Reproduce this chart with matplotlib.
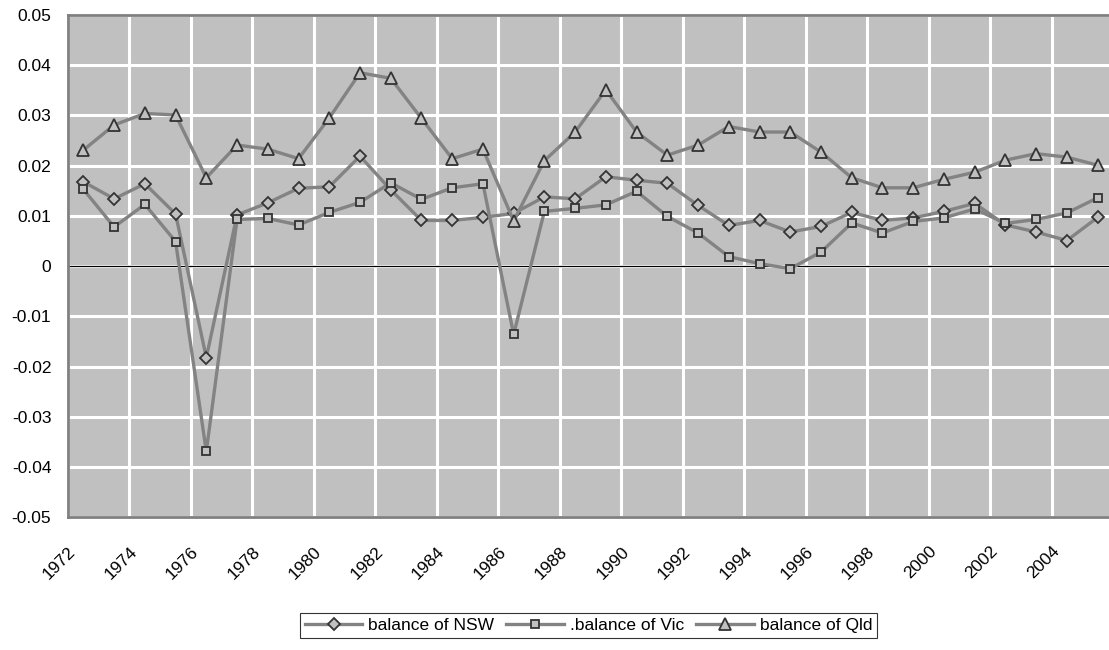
import numpy as np
import matplotlib.pyplot as plt

plt.rcParams['font.family'] = ['Liberation Sans Narrow', 'Liberation Sans', 'DejaVu Sans']
plt.rcParams['axes.unicode_minus'] = False

# yearly balances, 1972-2005
years = list(range(1972, 2006))
nsw = [0.0168, 0.0134, 0.0164, 0.0104, -0.0182, 0.0102, 0.0126, 0.0155, 0.0158, 0.0219,
       0.0152, 0.0091, 0.0091, 0.0097, 0.0105, 0.0138, 0.0134, 0.0178, 0.0171, 0.0165,
       0.0121, 0.0081, 0.0091, 0.0068, 0.0079, 0.0107, 0.0091, 0.0096, 0.0109, 0.0125,
       0.0082, 0.0068, 0.0051, 0.0097]
vic = [0.0153, 0.0078, 0.0123, 0.0049, -0.0369, 0.0093, 0.0095, 0.0082, 0.0107, 0.0127,
       0.0166, 0.0133, 0.0156, 0.0164, -0.0136, 0.0109, 0.0115, 0.0122, 0.0149, 0.0099,
       0.0066, 0.0019, 0.0005, -0.0005, 0.0028, 0.0086, 0.0066, 0.0089, 0.0096, 0.0114,
       0.0085, 0.0093, 0.0106, 0.0136]
qld = [0.0231, 0.0281, 0.0304, 0.0301, 0.0176, 0.0241, 0.0233, 0.0214, 0.0295, 0.0385,
       0.0374, 0.0294, 0.0214, 0.0233, 0.0090, 0.0210, 0.0267, 0.0351, 0.0267, 0.0221,
       0.0241, 0.0278, 0.0267, 0.0267, 0.0227, 0.0176, 0.0156, 0.0156, 0.0173, 0.0187,
       0.0211, 0.0224, 0.0217, 0.0201]

# categories sit between the year gridlines
x = np.arange(len(years)) + 0.5

fig = plt.figure(figsize=(11.09, 6.5), dpi=100)
ax = fig.add_axes([68/1109, 132.7/650, 1 - 68/1109, 502.3/650])
ax.set_facecolor('#c0c0c0')

line_kw = dict(color='#838383', lw=2.4, mfc='#c0c0c0', mec='#333333', mew=1.3, zorder=3)
ax.plot(x, nsw, marker='D', ms=6.5, label='balance of NSW', **line_kw)
ax.plot(x, vic, marker='s', ms=6, label='.balance of Vic', **line_kw)
ax.plot(x, qld, marker='^', ms=8, label='balance of Qld', **line_kw)

ax.axhline(0, color='black', lw=0.9, zorder=2)

ax.set_xlim(0, 33.87)
ax.set_ylim(-0.05, 0.05)
ax.set_xticks(np.arange(0, 33, 2))
ax.set_xticklabels([str(y) for y in years[::2]], rotation=45, ha='right', va='top',
                   rotation_mode='anchor')
yt = np.round(np.arange(-0.05, 0.051, 0.01), 2)
ax.set_yticks(yt)
ax.set_yticklabels([f'{v:g}' for v in yt])
ax.tick_params(axis='both', length=0, labelsize=12.5, colors='black')
ax.tick_params(axis='y', pad=12)
ax.tick_params(axis='x', pad=19)

ax.grid(True, color='white', lw=2.2, zorder=1)
ax.set_axisbelow(True)

for side in ['top', 'left', 'bottom']:
    ax.spines[side].set_color('#808080')
    ax.spines[side].set_linewidth(2)
ax.spines['right'].set_visible(False)

leg = ax.legend(loc='center', bbox_to_anchor=(0.5, -0.215), ncol=3, frameon=True,
                fancybox=False, edgecolor='black', fontsize=12.5, handlelength=3.3,
                handletextpad=0.35, columnspacing=0.7, borderpad=0.3)
leg.get_frame().set_linewidth(0.8)

fig.savefig('out.png', dpi=100)
